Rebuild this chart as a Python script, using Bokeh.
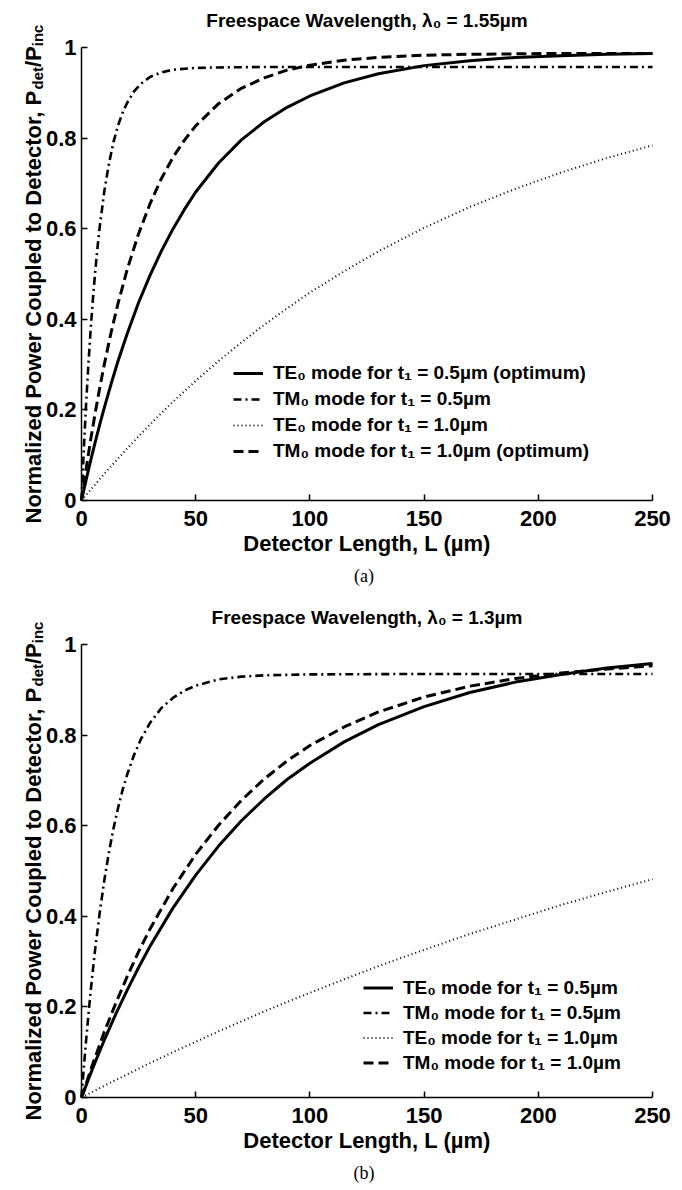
import math
from bokeh.plotting import figure
from bokeh.models import (Range1d, FixedTicker, Label, Legend, LegendItem,
                          CustomJSTickFormatter)
from bokeh.layouts import column
from bokeh.embed import file_html
from bokeh.resources import INLINE

# ---------------- data ----------------
# (a) freespace wavelength 1.55 um
a_L_te05 = [0, 2, 4, 6, 8, 10, 13, 16, 20, 25, 30, 35, 40, 45, 50, 60, 70, 80, 90, 100,
            115, 130, 150, 170, 190, 210, 230, 250]
a_te05 = [0, 0.045, 0.088, 0.129, 0.168, 0.205, 0.258, 0.308, 0.368, 0.437, 0.497, 0.551,
          0.599, 0.642, 0.681, 0.745, 0.796, 0.836, 0.868, 0.893, 0.922, 0.942, 0.960,
          0.971, 0.978, 0.982, 0.985, 0.987]
a_L_tm05 = [0, 1, 2, 3, 4, 5, 6, 7, 8, 10, 12, 14, 16, 18, 20, 23, 26, 30, 35, 40, 50, 60,
            80, 100, 150, 200, 250]
a_tm05 = [0, 0.112, 0.212, 0.299, 0.377, 0.445, 0.505, 0.558, 0.605, 0.683, 0.743, 0.791,
          0.828, 0.856, 0.878, 0.903, 0.920, 0.935, 0.945, 0.951, 0.955, 0.956, 0.957,
          0.957, 0.957, 0.957, 0.957]
a_L_te10 = [0, 10, 20, 30, 40, 50, 60, 70, 80, 90, 100, 115, 130, 150, 170, 190, 210, 230, 250]
a_te10 = [0, 0.059, 0.115, 0.168, 0.218, 0.264, 0.308, 0.349, 0.388, 0.424, 0.459, 0.506,
          0.550, 0.602, 0.648, 0.688, 0.724, 0.756, 0.784]
a_L_tm10 = [0, 2, 4, 6, 8, 10, 13, 16, 20, 25, 30, 35, 40, 45, 50, 60, 70, 80, 90, 100,
            115, 130, 150, 170, 190, 210, 230, 250]
a_tm10 = [0, 0.069, 0.134, 0.193, 0.249, 0.301, 0.372, 0.435, 0.510, 0.589, 0.655, 0.711,
          0.757, 0.795, 0.827, 0.876, 0.910, 0.933, 0.950, 0.961, 0.972, 0.978, 0.983,
          0.985, 0.986, 0.987, 0.987, 0.987]

# (b) freespace wavelength 1.3 um
b_L_te05 = [0, 5, 10, 15, 20, 25, 30, 40, 50, 60, 70, 80, 90, 100, 115, 130, 150, 170, 190,
            210, 230, 250]
b_te05 = [0, 0.066, 0.127, 0.184, 0.237, 0.287, 0.334, 0.418, 0.491, 0.555, 0.611, 0.659,
          0.702, 0.738, 0.785, 0.823, 0.863, 0.894, 0.917, 0.934, 0.948, 0.958]
b_L_tm05 = [0, 1, 2, 3, 4, 5, 6, 8, 10, 12, 14, 16, 18, 20, 23, 26, 30, 35, 40, 45, 50, 60,
            70, 80, 100, 150, 200, 250]
b_tm05 = [0, 0.065, 0.125, 0.181, 0.234, 0.282, 0.328, 0.409, 0.480, 0.541, 0.594, 0.639,
          0.679, 0.713, 0.756, 0.791, 0.827, 0.860, 0.882, 0.898, 0.909, 0.923, 0.929,
          0.932, 0.934, 0.935, 0.935, 0.935]
b_L_te10 = [0, 10, 20, 30, 40, 50, 60, 70, 80, 90, 100, 115, 130, 150, 170, 190, 210, 230, 250]
b_te10 = [0, 0.026, 0.051, 0.076, 0.100, 0.123, 0.146, 0.168, 0.190, 0.211, 0.231, 0.261,
          0.290, 0.326, 0.361, 0.393, 0.425, 0.454, 0.482]
b_L_tm10 = [0, 5, 10, 15, 20, 25, 30, 40, 50, 60, 70, 80, 90, 100, 115, 130, 150, 170, 190,
            210, 230, 250]
b_tm10 = [0, 0.075, 0.145, 0.208, 0.267, 0.322, 0.372, 0.461, 0.537, 0.601, 0.656, 0.703,
          0.743, 0.777, 0.818, 0.851, 0.884, 0.908, 0.925, 0.937, 0.946, 0.953]

x_ticks = [0, 50, 100, 150, 200, 250]
y_ticks = [0, 0.2, 0.4, 0.6, 0.8, 1.0]

a_title = "Freespace Wavelength, λ₀ = 1.55µm"
b_title = "Freespace Wavelength, λ₀ = 1.3µm"
a_labels = ["TE₀ mode for t₁ = 0.5µm (optimum)", "TM₀ mode for t₁ = 0.5µm",
            "TE₀ mode for t₁ = 1.0µm", "TM₀ mode for t₁ = 1.0µm (optimum)"]
b_labels = ["TE₀ mode for t₁ = 0.5µm", "TM₀ mode for t₁ = 0.5µm",
            "TE₀ mode for t₁ = 1.0µm", "TM₀ mode for t₁ = 1.0µm"]
x_label = "Detector Length, L (µm)"
y_parts = ["Normalized Power Coupled to Detector, P", "det", "/P", "inc"]

FONT = "Liberation Sans"
W = 674
AX_L, AX_R = 81, 652      # pixel columns of x = 0 and x = 250
AX_T, AX_B = 47, 500      # pixel rows of y = 1 and y = 0 (within each figure)
# Arial-bold advance widths (per 1000 em) for measuring the y label pieces
AW = {' ': 278, ',': 278, '/': 278, 'C': 722, 'D': 722, 'N': 722, 'P': 667, 'a': 556,
      'c': 556, 'd': 611, 'e': 556, 'i': 278, 'l': 278, 'm': 889, 'n': 611, 'o': 611,
      'p': 611, 'r': 389, 't': 333, 'u': 611, 'w': 778, 'z': 500}


def tw(s, size):
    return sum(AW.get(ch, 556) for ch in s) * size / 1000.0


def make_panel(H, series, labels, title, caption, leg_x, leg_top, row_h):
    kx = (AX_R - AX_L) / 250.0
    ky = (AX_B - AX_T) / 1.0
    xr = Range1d(-AX_L / kx, (W - AX_L) / kx)
    yr = Range1d(-(H - AX_B) / ky, AX_B / ky)
    p = figure(width=W, height=H, output_backend="svg", toolbar_location=None,
               x_range=xr, y_range=yr, title_location=None, min_border=0)
    p.outline_line_color = None
    p.grid.visible = False
    p.background_fill_color = "white"
    p.border_fill_color = "white"

    for ax in (p.xaxis[0], p.yaxis[0]):
        ax.fixed_location = 0
        ax.axis_line_width = 1.5
        ax.major_tick_line_width = 1.5
        ax.major_tick_in = 6
        ax.major_tick_out = 0
        ax.minor_tick_line_color = None
        ax.major_label_text_font = FONT
        ax.major_label_text_font_size = "22px"
        ax.major_label_text_font_style = "bold"
        ax.major_label_text_color = "black"
        ax.axis_line_color = "black"
        ax.major_tick_line_color = "black"
    p.xaxis.bounds = (0, 250)
    p.yaxis.bounds = (0, 1)
    p.xaxis.ticker = FixedTicker(ticks=x_ticks)
    p.yaxis.ticker = FixedTicker(ticks=y_ticks)
    p.yaxis.formatter = CustomJSTickFormatter(code="return String(Math.round(tick*10)/10)")
    p.xaxis.major_label_standoff = 10
    p.yaxis.major_label_standoff = 5
    p.xaxis.axis_label = x_label
    p.xaxis.axis_label_text_font = FONT
    p.xaxis.axis_label_text_font_size = "22px"
    p.xaxis.axis_label_text_font_style = "bold"
    p.xaxis.axis_label_text_color = "black"
    p.xaxis.axis_label_standoff = 2

    styles = [dict(line_dash="solid", line_width=3),
              dict(line_dash="8 4 2 4", line_width=2.6),
              dict(line_dash="1 3", line_width=2),
              dict(line_dash="10 5", line_width=3)]
    items = []
    for (xs, ys), st, lab in zip(series, styles, labels):
        r = p.line(xs, ys, line_color="black", **st)
        items.append(LegendItem(label=lab, renderers=[r]))
    leg_h = row_h * len(items)
    leg = Legend(items=items, location=(leg_x, H - leg_top - leg_h), padding=0, margin=0,
                 spacing=0, glyph_width=30, glyph_height=row_h, label_height=row_h,
                 label_standoff=10, border_line_alpha=0, background_fill_alpha=0,
                 label_text_font=FONT, label_text_font_size="19px",
                 label_text_font_style="bold", label_text_color="black")
    p.add_layout(leg, "center")

    xc = (AX_L + AX_R) / 2.0
    # Labels use screen coordinates from the bottom-left of the (full-canvas) frame
    p.add_layout(Label(x=xc, y=H - 20, x_units="screen", y_units="screen",
                       text=title, text_font=FONT, text_font_size="19px",
                       text_font_style="bold", text_align="center",
                       text_baseline="middle", text_color="black"))
    p.add_layout(Label(x=xc - 3, y=H - 575, x_units="screen", y_units="screen",
                       text=caption, text_font="Liberation Serif", text_font_size="18px",
                       text_align="center", text_baseline="middle", text_color="black"))
    # rotated y label with subscripts
    sizes = [22, 15, 22, 15]
    total = sum(tw(s, z) for s, z in zip(y_parts, sizes))
    y0 = H - (AX_T + AX_B) / 2.0 - total / 2.0
    for s, z in zip(y_parts, sizes):
        xb = 33 if z == 22 else 37
        p.add_layout(Label(x=xb, y=y0, x_units="screen", y_units="screen", text=s,
                           angle=math.pi / 2, text_font=FONT, text_font_size=f"{z}px",
                           text_font_style="bold", text_align="left",
                           text_baseline="alphabetic", text_color="black"))
        y0 += tw(s, z)
    return p


pa = make_panel(597, [(a_L_te05, a_te05), (a_L_tm05, a_tm05), (a_L_te10, a_te10),
                      (a_L_tm10, a_tm10)], a_labels, a_title, "(a)", 233, 360, 26)
pb = make_panel(590, [(b_L_te05, b_te05), (b_L_tm05, b_tm05), (b_L_te10, b_te10),
                      (b_L_tm10, b_tm10)], b_labels, b_title, "(b)", 363, 378, 25)

layout = column(pa, pb, spacing=0)
open("out.html", "w").write(file_html(layout, INLINE))
